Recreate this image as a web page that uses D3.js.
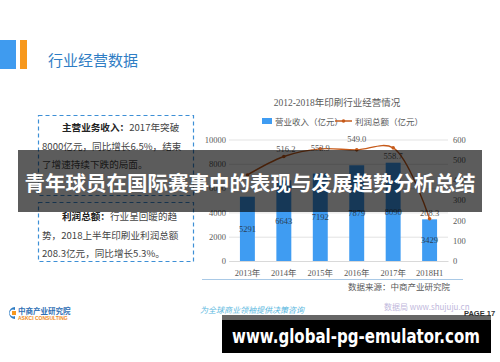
<!DOCTYPE html>
<html>
<head>
<meta charset="utf-8">
<title>行业经营数据</title>
<script src="https://d3js.org/d3.v7.min.js"></script>
<style>
  body { margin: 0; background: #fff; }
  svg { display: block; }
  .cjk { font-family: "Noto Sans CJK SC", sans-serif; }
  .serif { font-family: "Liberation Serif", "Noto Sans CJK SC", serif; }
</style>
</head>
<body>
<div id="chart"></div>
<script>
// data
var years = ["2013年", "2014年", "2015年", "2016年", "2017年", "2018H1"];
var revenue = [5291, 6643, 7192, 7879, 8090, 3429];     // 营业收入（亿元）
var profit = [425, 516.2, 553.9, 549.0, 558.7, 208.3];  // 利润总额（亿元）
var leftTicks = [0, 2000, 4000, 6000, 8000, 10000];
var rightTicks = [0, 100, 200, 300, 400, 500, 600];
var profitLabels = ["", "516.2", "553.9", "549.0", "558.7", "208.3"];
var labelDy = [-7, -4, 2, -8, 11, -3]; // label offsets (style)

var W = 500, H = 362;
var svg = d3.select("#chart").append("svg")
  .attr("width", W).attr("height", H);

// header
svg.append("rect").attr("x", 0).attr("y", 40).attr("width", 16).attr("height", 29).attr("fill", "#3f9bef");
svg.append("rect").attr("x", 20).attr("y", 40).attr("width", 7).attr("height", 29).attr("fill", "#f7981d");
svg.append("text").attr("class", "cjk").attr("x", 48).attr("y", 66)
  .attr("font-size", 15).attr("fill", "#2f7dc4").text("行业经营数据");

// left text boxes
function dashBox(y, h) {
  svg.append("rect").attr("x", 38.5).attr("y", y).attr("width", 155).attr("height", h)
    .attr("fill", "none").attr("stroke", "#3d8fd6").attr("stroke-width", 1.2)
    .attr("stroke-dasharray", "4,3");
}
dashBox(115.5, 80);
dashBox(202.5, 59);

function para(lines, y0) {
  lines.forEach(function(l, i) {
    var t = svg.append("text").attr("class", "cjk").attr("x", l.x).attr("y", y0 + i * 18.5)
      .attr("font-size", 9.6).attr("fill", "#444");
    if (l.b) t.append("tspan").attr("font-weight", "bold").attr("fill", "#222").text(l.b);
    t.append("tspan").text(l.t);
  });
}
para([{x: 62, b: "主营业务收入：", t: "2017年突破"},
      {x: 42, t: "8000亿元，同比增长6.5%，结束"},
      {x: 42, t: "了增速持续下跌的局面。"}], 131);
para([{x: 62, b: "利润总额：", t: "行业呈回暖的趋"},
      {x: 42, t: "势，2018上半年印刷业利润总额"},
      {x: 42, t: "208.3亿元，同比增长5.3%。"}], 220);

// chart
var x = d3.scaleBand().domain(years).range([229, 448]).paddingInner(0.59).paddingOuter(0.3);
var yL = d3.scaleLinear().domain([0, 10000]).range([261, 139.5]);
var yR = d3.scaleLinear().domain([0, 600]).range([261, 139.5]);

svg.append("text").attr("class", "serif").attr("x", 337).attr("y", 106)
  .attr("text-anchor", "middle").attr("font-size", 9.5).attr("fill", "#595959")
  .text("2012-2018年印刷行业经营情况");

// legend
svg.append("rect").attr("x", 262).attr("y", 118).attr("width", 10).attr("height", 6).attr("fill", "#3f9cf2");
svg.append("text").attr("class", "serif").attr("x", 275).attr("y", 124.5)
  .attr("font-size", 8.5).attr("fill", "#595959").text("营业收入（亿元）");
svg.append("line").attr("x1", 335).attr("x2", 352).attr("y1", 121).attr("y2", 121)
  .attr("stroke", "#c65a1a").attr("stroke-width", 1.5);
svg.append("circle").attr("cx", 343.5).attr("cy", 121).attr("r", 1.8).attr("fill", "#c65a1a");
svg.append("text").attr("class", "serif").attr("x", 355).attr("y", 124.5)
  .attr("font-size", 8.5).attr("fill", "#595959").text("利润总额（亿元）");

// grid + axes
var gridAxis = d3.axisLeft(yL).tickValues(leftTicks).tickSize(-(448 - 229)).tickFormat(d3.format("d"));
var gL = svg.append("g").attr("transform", "translate(229,0)").call(gridAxis);
gL.select(".domain").remove();
gL.selectAll(".tick line").attr("stroke", "#e3e3e3");
gL.selectAll(".tick text").attr("class", "serif").attr("x", -3).attr("font-size", 8.5).attr("fill", "#595959");

var gR = svg.append("g").attr("transform", "translate(448,0)")
  .call(d3.axisRight(yR).tickValues(rightTicks).tickSize(0).tickFormat(d3.format("d")));
gR.select(".domain").remove();
gR.selectAll(".tick text").attr("class", "serif").attr("x", 5).attr("font-size", 8.5).attr("fill", "#595959");

var gX = svg.append("g").attr("transform", "translate(0,261)")
  .call(d3.axisBottom(x).tickSize(0).tickPadding(9));
gX.select(".domain").attr("stroke", "#d9d9d9");
gX.selectAll(".tick text").attr("class", "serif").attr("font-size", 8.5).attr("fill", "#595959");

// bars
svg.selectAll("rect.bar").data(revenue).enter().append("rect").attr("class", "bar")
  .attr("x", function(d, i) { return x(years[i]); })
  .attr("width", x.bandwidth())
  .attr("y", function(d) { return yL(d); })
  .attr("height", function(d) { return yL(0) - yL(d); })
  .attr("fill", "#3f9cf2");
svg.selectAll("text.barlab").data(revenue).enter().append("text").attr("class", "serif barlab")
  .attr("x", function(d, i) { return x(years[i]) + x.bandwidth() / 2; })
  .attr("y", function(d) { return (yL(d) + yL(0)) / 2 + 3; })
  .attr("text-anchor", "middle").attr("font-size", 8.5).attr("fill", "#2b3f55")
  .text(function(d) { return d; });

// profit line
var line = d3.line()
  .x(function(d, i) { return x(years[i]) + x.bandwidth() / 2; })
  .y(function(d) { return yR(d); })
  .curve(d3.curveCatmullRom.alpha(0.5));
svg.append("path").datum(profit).attr("d", line)
  .attr("fill", "none").attr("stroke", "#c65a1a").attr("stroke-width", 1.4);
svg.selectAll("circle.pt").data(profit).enter().append("circle").attr("class", "pt")
  .attr("cx", function(d, i) { return x(years[i]) + x.bandwidth() / 2; })
  .attr("cy", function(d) { return yR(d); })
  .attr("r", 1.8).attr("fill", "#c65a1a");
svg.selectAll("text.linelab").data(profit).enter().append("text").attr("class", "serif linelab")
  .attr("x", function(d, i) { return x(years[i]) + x.bandwidth() / 2 + (i === 1 ? 2 : 0); })
  .attr("y", function(d, i) { return yR(d) + labelDy[i]; })
  .attr("text-anchor", "middle").attr("font-size", 8.5).attr("fill", "#595959")
  .text(function(d, i) { return profitLabels[i]; });

// source
svg.append("line").attr("x1", 202).attr("x2", 463).attr("y1", 279.5).attr("y2", 279.5)
  .attr("stroke", "#a9c9e6").attr("stroke-width", 1);
svg.append("text").attr("class", "serif").attr("x", 348).attr("y", 290)
  .attr("font-size", 8.5).attr("fill", "#595959").text("数据来源：中商产业研究院");

// footer
var logo = svg.append("g").attr("transform", "translate(5,306)");
logo.append("path").attr("d", "M10,1 A6,6 0 1 0 10,13 L10,10 A3.5,3.5 0 1 1 10,4 Z").attr("fill", "#2f7dc4");
logo.append("path").attr("d", "M7,5 L11,5 L11,9 L7,9 Z").attr("fill", "#f7981d");
logo.append("text").attr("class", "cjk").attr("x", 13).attr("y", 7.5)
  .attr("font-size", 7.5).attr("font-weight", "bold").attr("fill", "#2f6fb4").text("中商产业研究院");
logo.append("text").attr("x", 13).attr("y", 14)
  .attr("font-family", "Liberation Sans").attr("font-size", 5).attr("font-weight", "bold")
  .attr("fill", "#f08a1a").text("ASKCI CONSULTING");
svg.append("text").attr("class", "cjk").attr("x", 200).attr("y", 313)
  .attr("font-size", 8).attr("font-style", "italic").attr("fill", "#5bb8e0")
  .text("为全球商业领袖提供决策咨询");
svg.append("text").attr("class", "cjk").attr("x", 384).attr("y", 310)
  .attr("font-size", 8).attr("fill", "#c1b8dc").text("数据局 www.shujuju.cn");

// overlays
svg.append("rect").attr("x", 18).attr("y", 150).attr("width", 464).attr("height", 62)
  .attr("fill", "rgba(0,0,0,0.64)");
svg.append("text").attr("class", "cjk").attr("x", 250).attr("y", 191)
  .attr("text-anchor", "middle").attr("font-size", 20.5).attr("font-weight", "bold")
  .attr("fill", "#fff").text("青年球员在国际赛事中的表现与发展趋势分析总结");

svg.append("rect").attr("x", 222).attr("y", 315).attr("width", 269).attr("height", 6)
  .attr("fill", "rgba(0,0,0,0.6)");
svg.append("rect").attr("x", 222).attr("y", 320).attr("width", 269).attr("height", 33)
  .attr("fill", "#000");
svg.append("text").attr("x", 464).attr("y", 316).attr("font-family", "Liberation Sans")
  .attr("font-size", 7.5).attr("font-weight", "bold").attr("fill", "#333").text("PAGE 17");
svg.append("text").attr("x", 232).attr("y", 343).attr("textLength", 248).attr("lengthAdjust", "spacingAndGlyphs")
  .attr("font-family", "DejaVu Sans").attr("font-size", 19).attr("font-weight", "bold")
  .attr("fill", "#fff").text("www.global-pg-emulator.com");
</script>
</body>
</html>
